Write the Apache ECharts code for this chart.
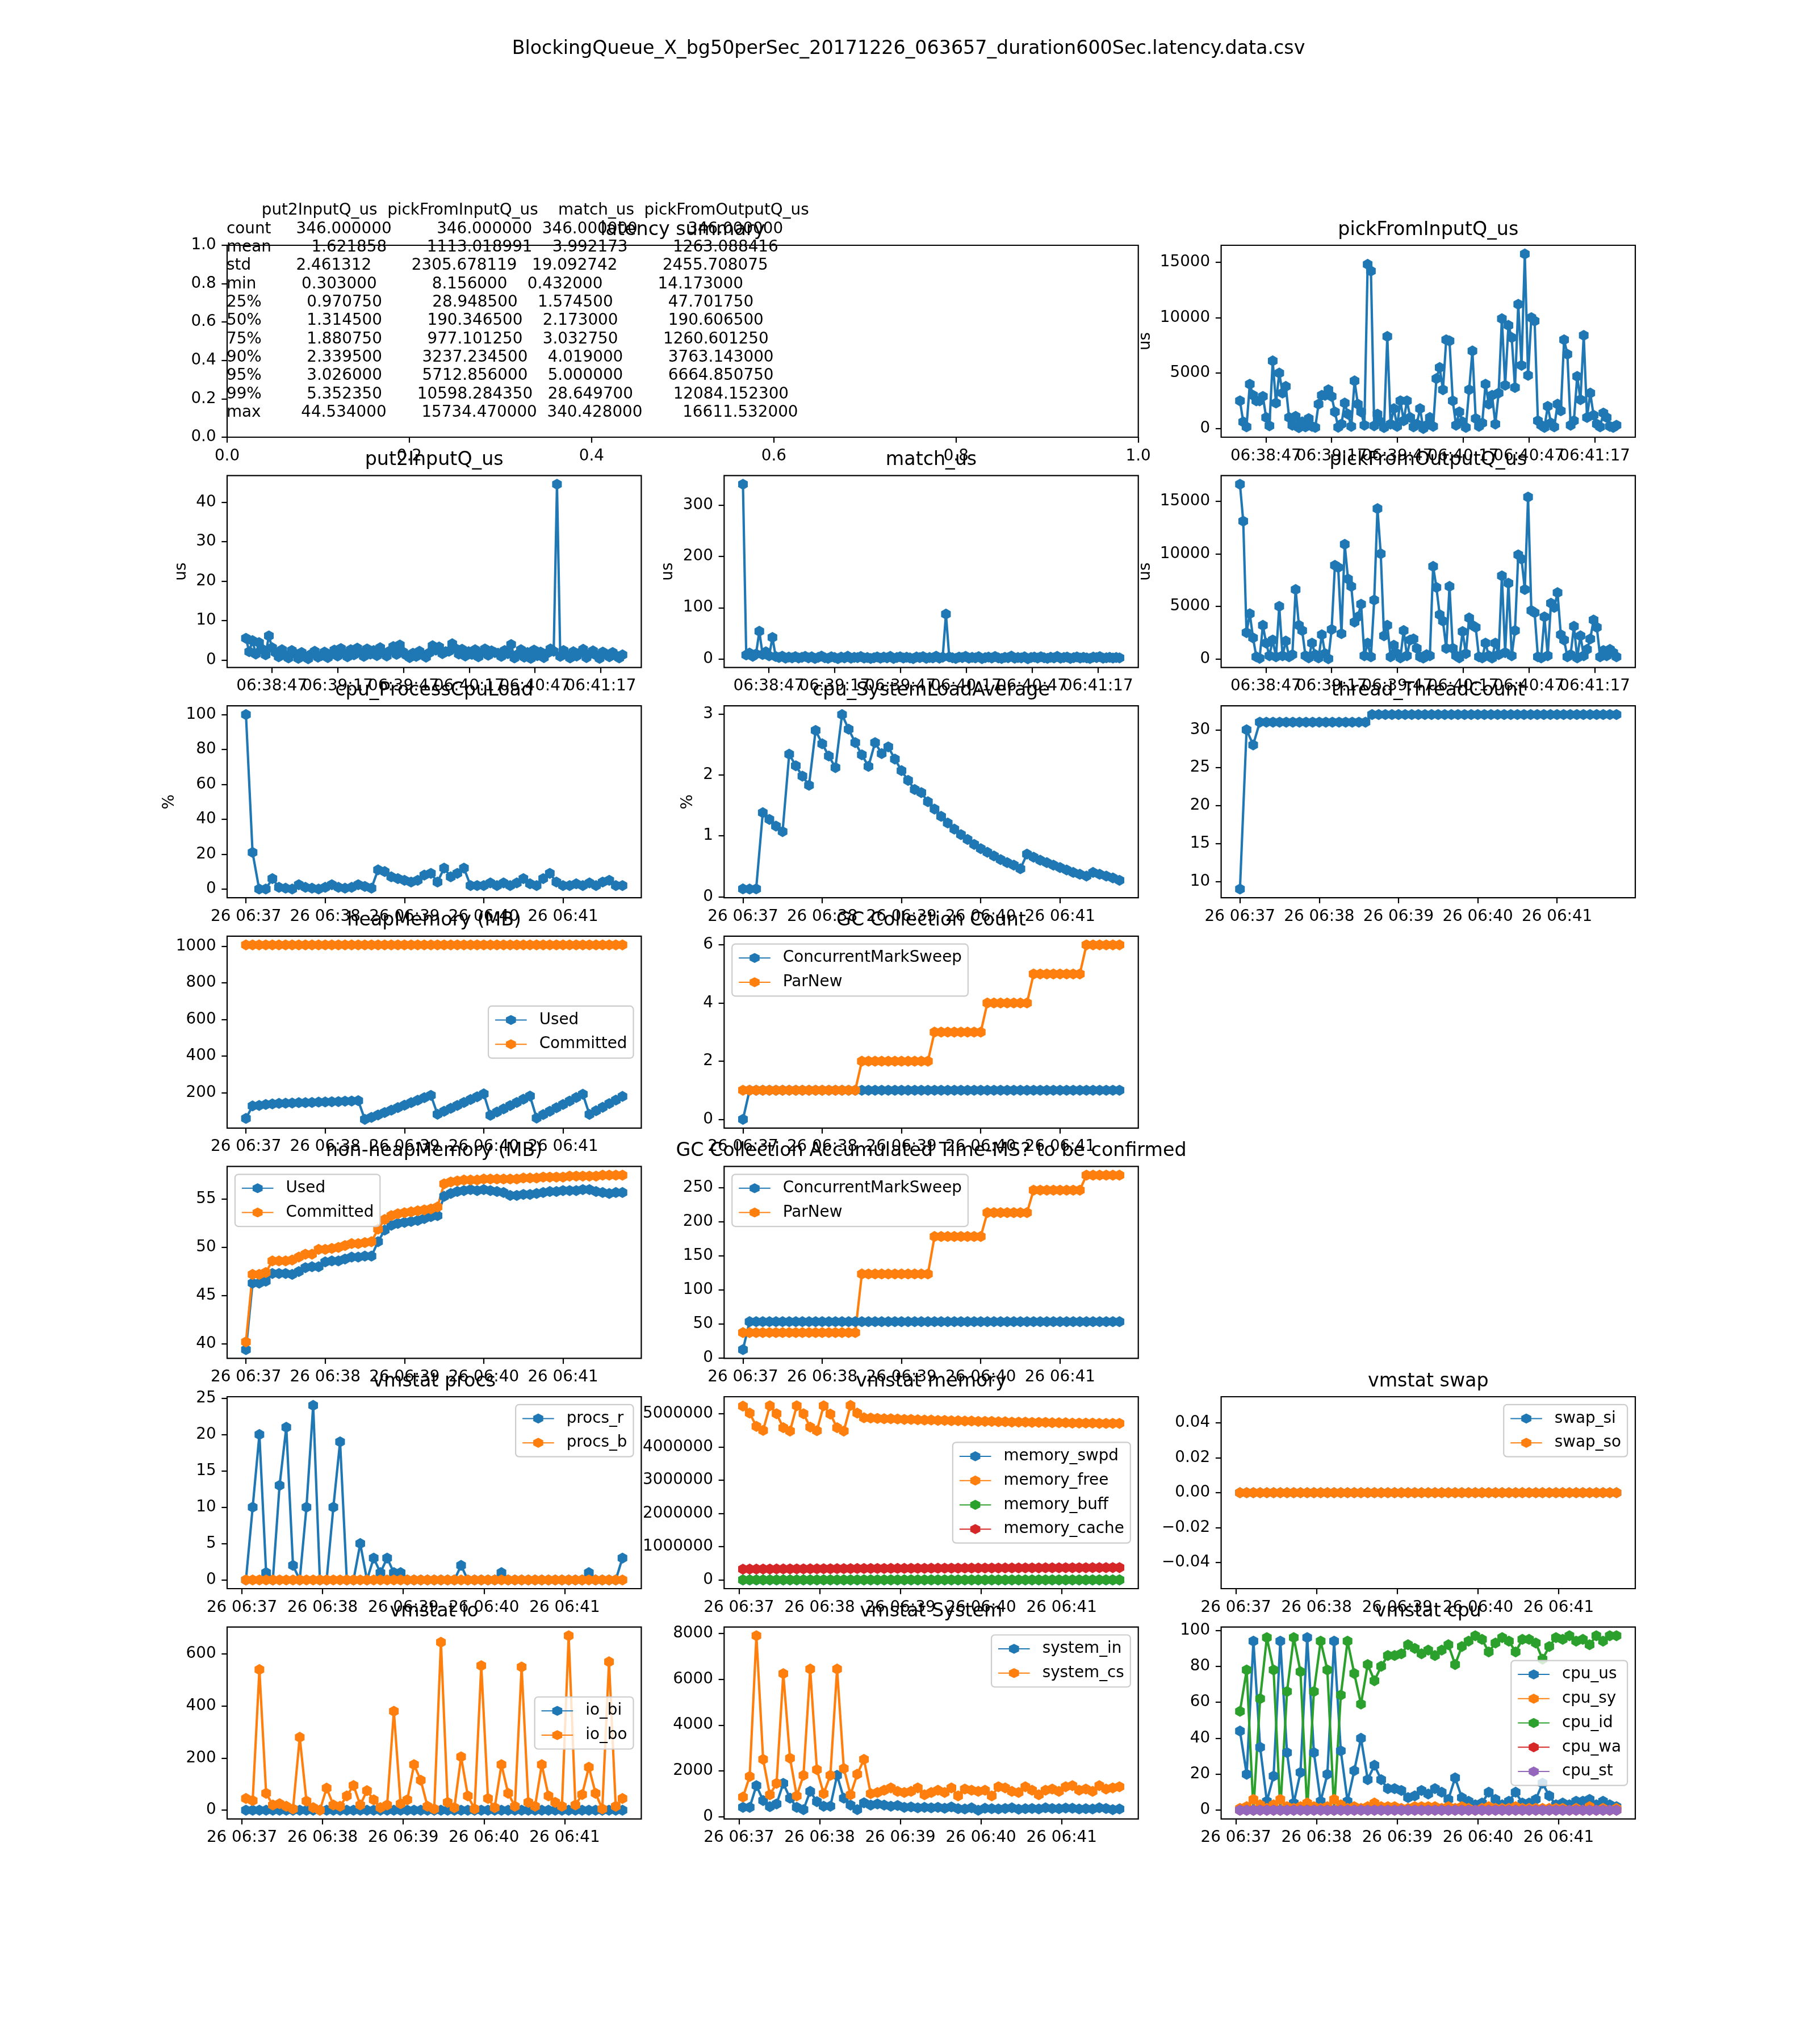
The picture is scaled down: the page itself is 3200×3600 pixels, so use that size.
<!DOCTYPE html>
<html>
<head>
<meta charset="utf-8">
<script src="https://cdn.jsdelivr.net/npm/echarts@6/dist/echarts.min.js"></script>
<style>
  html, body { margin: 0; padding: 0; background: #fff; }
  #chart { width: 3200px; height: 3600px; }
</style>
</head>
<body>
<div id="chart"></div>
<script>
// ---- data ----
const FIG_TITLE = 'BlockingQueue_X_bg50perSec_20171226_063657_duration600Sec.latency.data.csv';

// latency summary (pandas describe)
const STAT_NAMES = ['count', 'mean', 'std', 'min', '25%', '50%', '75%', '90%', '95%', '99%', 'max'];
const LAT_COLUMNS = ['put2InputQ_us', 'pickFromInputQ_us', 'match_us', 'pickFromOutputQ_us'];
const STAT_PUT2 = [346.0, 1.621858, 2.461312, 0.303, 0.97075, 1.3145, 1.88075, 2.3395, 3.026, 5.35235, 44.534];
const STAT_PICK_IN = [346.0, 1113.018991, 2305.678119, 8.156, 28.9485, 190.3465, 977.10125, 3237.2345, 5712.856, 10598.28435, 15734.47];
const STAT_MATCH = [346.0, 3.992173, 19.092742, 0.432, 1.5745, 2.173, 3.03275, 4.019, 5.0, 28.6497, 340.428];
const STAT_PICK_OUT = [346.0, 1263.088416, 2455.708075, 14.173, 47.70175, 190.6065, 1260.60125, 3763.143, 6664.85075, 12084.1523, 16611.532];

// latency samples, 06:38:35 .. 06:41:27
const LAT_START = '06:38:35.2', LAT_END = '06:41:26.9';
const PUT2_US = [5.5, 2.1, 4.9, 1.5, 4.4, 2.7, 1.3, 6.1, 3.1, 1.9,
  0.8, 2.6, 1.2, 0.5, 2.4, 1.6, 0.4, 1.9, 0.9, 0.303,
  1.5, 2.2, 0.7, 1.1, 2.0, 0.6, 1.4, 2.5, 1.0, 2.9,
  1.7, 0.8, 2.6, 1.3, 3.0, 1.9, 0.9, 2.8, 1.5, 2.4,
  1.1, 3.1, 1.8, 1.0, 2.3, 3.4, 1.4, 3.8, 2.0, 1.2,
  0.6, 1.7, 0.9, 2.2, 1.3, 0.7, 1.8, 3.6, 2.5, 3.3,
  1.6, 2.1, 2.2, 4.1, 2.9, 1.5, 2.7, 1.0, 2.1, 1.4,
  2.6, 0.8, 1.9, 2.8, 1.2, 2.3, 1.9, 1.7, 0.9, 2.4,
  1.6, 3.9, 0.5, 1.4, 2.6, 0.7, 1.9, 0.4, 2.5, 1.1,
  2.0, 0.6, 1.7, 2.8, 2.2, 44.534, 0.9, 2.4, 1.3, 0.5,
  2.1, 1.0, 1.8, 2.7, 0.6, 1.5, 2.3, 1.2, 0.4, 2.0,
  1.4, 0.8, 1.9, 1.1, 0.5, 1.3];
const PICK_IN_US = [2500, 600, 150, 4000, 3000, 2500, 2500, 2900, 1000, 250,
  6100, 2300, 5000, 3200, 3800, 1000, 300, 1100, 80, 600,
  150, 900, 200, 100, 2200, 3000, 3000, 3500, 2900, 1500,
  120, 400, 2300, 1300, 200, 4300, 2200, 1500, 300, 14800,
  14200, 250, 1300, 600, 90, 8300, 400, 1800, 200, 2500,
  700, 2500, 1000, 150, 400, 1800, 8.156, 300, 1000, 200,
  4500, 5500, 3500, 8000, 7900, 2500, 300, 1500, 600, 100,
  3500, 7000, 900, 200, 500, 4000, 2200, 3000, 400, 3200,
  9900, 3900, 9300, 8200, 3700, 11200, 5700, 15734.47, 4800, 10000,
  9700, 700, 300, 100, 2000, 500, 150, 2200, 1600, 8000,
  6700, 300, 700, 4700, 2600, 8400, 1000, 3200, 1200, 400,
  150, 1400, 1000, 200, 100, 300];
const MATCH_US = [340.428, 7.8, 11.5, 5.2, 9.6, 54, 8.7, 13.9, 6.1, 42,
  4.8, 2.9, 5.5, 1.6, 3.8, 2.2, 4.6, 1.9, 3.3, 5.0,
  2.1, 4.2, 0.9, 3.1, 5.6, 2.4, 1.2, 4.4, 2.8, 0.6,
  3.7, 2.0, 5.3, 1.4, 3.2, 2.6, 4.8, 1.8, 3.0, 0.9,
  2.4, 4.1, 1.5, 3.6, 2.2, 5.1, 1.0, 2.9, 4.3, 1.7,
  3.4, 2.1, 0.8, 3.9, 2.5, 4.7, 1.3, 3.0, 2.0, 5.4,
  1.6, 3.5, 87.5, 4.0, 2.3, 1.1, 3.8, 2.7, 5.2, 1.4,
  3.1, 2.0, 4.5, 0.7, 2.6, 3.7, 1.9, 4.9, 2.2, 1.0,
  3.3, 2.4, 5.6, 1.5, 3.0, 2.1, 4.2, 0.432, 2.8, 3.6,
  1.7, 4.4, 2.3, 1.2, 3.4, 2.0, 5.0, 1.6, 2.9, 3.8,
  1.1, 2.5, 4.1, 1.8, 3.2, 2.2, 0.9, 3.6, 2.7, 4.6,
  1.4, 2.4, 3.3, 1.9, 2.8, 2.1];
const PICK_OUT_US = [16611.532, 13100, 2500, 4300, 2000, 200, 60, 3200, 1500, 300,
  1800, 200, 5000, 300, 1700, 200, 400, 6600, 3200, 2700,
  300, 100, 1500, 400, 90, 2300, 500, 14.173, 2800, 8900,
  8700, 2400, 10900, 7600, 6900, 3500, 4000, 5200, 300, 1500,
  200, 5600, 14300, 10000, 2200, 3200, 200, 1300, 500, 100,
  2700, 300, 1800, 1900, 1000, 200, 80, 400, 300, 8800,
  6800, 4200, 3600, 1000, 6900, 1000, 300, 100, 2600, 500,
  3900, 3200, 3000, 200, 100, 1500, 300, 80, 1500, 400,
  7900, 600, 7200, 300, 2700, 9900, 9500, 6600, 15400, 4600,
  4400, 200, 100, 4000, 300, 5300, 4900, 6300, 2300, 1800,
  200, 400, 3100, 100, 2200, 300, 900, 1900, 3700, 3000,
  200, 800, 300, 900, 600, 200];

// JMX samples every 5 s from 06:37:00
const JMX_START = '06:37:00', JMX_STEP = 5;
const CPU_PROC = [100, 21, 0, 0, 6, 1, 0.5, 0, 2.5, 1, 0.5, 0, 1, 2.5, 1, 0.5, 1, 2.5, 1.5, 0.5,
  11, 10, 7, 6, 5, 4, 5, 8, 9, 4, 12, 7, 9, 12, 2, 2, 2, 3.5, 2, 3.5,
  2, 3.5, 6, 3, 2, 6, 9, 4, 2, 2, 3, 2, 3.5, 2, 4, 5, 2, 2];
const SYS_LOAD = [0.13, 0.127, 0.13, 1.38, 1.27, 1.16, 1.07, 2.34, 2.15, 1.98,
  1.83, 2.73, 2.51, 2.31, 2.12, 2.99, 2.75, 2.53, 2.33, 2.14,
  2.53, 2.35, 2.46, 2.26, 2.07, 1.91, 1.76, 1.71, 1.56, 1.44,
  1.32, 1.21, 1.11, 1.02, 0.94, 0.86, 0.79, 0.73, 0.67, 0.61,
  0.56, 0.52, 0.46, 0.70, 0.65, 0.60, 0.56, 0.52, 0.48, 0.44,
  0.40, 0.37, 0.34, 0.40, 0.37, 0.34, 0.31, 0.27];
const THREADS = [9, 30, 28, 31, 31, 31, 31, 31, 31, 31, 31, 31, 31, 31, 31, 31, 31, 31, 31, 31,
  32, 32, 32, 32, 32, 32, 32, 32, 32, 32, 32, 32, 32, 32, 32, 32, 32, 32, 32, 32,
  32, 32, 32, 32, 32, 32, 32, 32, 32, 32, 32, 32, 32, 32, 32, 32, 32, 32];
const HEAP_USED = [60, 128, 131, 136, 139, 142, 143, 144, 146, 146, 147, 149, 150, 151, 152, 154, 155, 157,
  55, 66, 79, 92, 105, 119, 132, 146, 159, 173, 186,
  83, 99, 115, 131, 147, 163, 178, 194,
  77, 95, 112, 130, 147, 165, 182,
  62, 81, 99, 118, 136, 155, 174, 192,
  82, 102, 121, 141, 160, 180];
const HEAP_COMMITTED = [1007, 1007, 1007, 1007, 1007, 1007, 1007, 1007, 1007, 1007,
  1007, 1007, 1007, 1007, 1007, 1007, 1007, 1007, 1007, 1007,
  1007, 1007, 1007, 1007, 1007, 1007, 1007, 1007, 1007, 1007,
  1007, 1007, 1007, 1007, 1007, 1007, 1007, 1007, 1007, 1007,
  1007, 1007, 1007, 1007, 1007, 1007, 1007, 1007, 1007, 1007,
  1007, 1007, 1007, 1007, 1007, 1007, 1007, 1007];
const NONHEAP_USED = [39.4, 46.3, 46.3, 46.5, 47.3, 47.3, 47.3, 47.2, 47.5, 47.9,
  48.0, 48.0, 48.5, 48.6, 48.6, 48.8, 49.0, 49.0, 49.1, 49.1,
  50.6, 51.8, 52.3, 52.5, 52.6, 52.7, 52.8, 53.0, 53.2, 53.3,
  55.3, 55.6, 55.8, 55.9, 56.0, 55.9, 56.0, 55.9, 55.8, 55.7,
  55.4, 55.4, 55.5, 55.5, 55.6, 55.7, 55.8, 55.8, 55.9, 55.9,
  55.9, 56.0, 56.0, 55.8, 55.7, 55.6, 55.7, 55.7];
const NONHEAP_COMMITTED = [40.2, 47.2, 47.2, 47.4, 48.6, 48.6, 48.6, 48.7, 49.0, 49.3,
  49.3, 49.8, 49.8, 49.9, 50.0, 50.2, 50.4, 50.4, 50.5, 50.6,
  51.9, 52.9, 53.3, 53.5, 53.6, 53.7, 53.8, 53.9, 54.0, 54.2,
  56.6, 56.8, 56.9, 57.0, 57.0, 57.0, 57.1, 57.1, 57.1, 57.1,
  57.1, 57.1, 57.2, 57.2, 57.2, 57.3, 57.3, 57.3, 57.3, 57.4,
  57.4, 57.4, 57.4, 57.4, 57.5, 57.5, 57.5, 57.5];
const GC_CMS_COUNT = [0, 1, 1, 1, 1, 1, 1, 1, 1, 1, 1, 1, 1, 1, 1, 1, 1, 1, 1, 1,
  1, 1, 1, 1, 1, 1, 1, 1, 1, 1, 1, 1, 1, 1, 1, 1, 1, 1, 1, 1,
  1, 1, 1, 1, 1, 1, 1, 1, 1, 1, 1, 1, 1, 1, 1, 1, 1, 1];
const GC_PARNEW_COUNT = [1, 1, 1, 1, 1, 1, 1, 1, 1, 1, 1, 1, 1, 1, 1, 1, 1, 1,
  2, 2, 2, 2, 2, 2, 2, 2, 2, 2, 2,
  3, 3, 3, 3, 3, 3, 3, 3,
  4, 4, 4, 4, 4, 4, 4,
  5, 5, 5, 5, 5, 5, 5, 5,
  6, 6, 6, 6, 6, 6];
const GC_CMS_TIME = [12, 53, 53, 53, 53, 53, 53, 53, 53, 53, 53, 53, 53, 53, 53, 53, 53, 53, 53, 53,
  53, 53, 53, 53, 53, 53, 53, 53, 53, 53, 53, 53, 53, 53, 53, 53, 53, 53, 53, 53,
  53, 53, 53, 53, 53, 53, 53, 53, 53, 53, 53, 53, 53, 53, 53, 53, 53, 53];
const GC_PARNEW_TIME = [37, 37, 37, 37, 37, 37, 37, 37, 37, 37, 37, 37, 37, 37, 37, 37, 37, 37,
  123, 123, 123, 123, 123, 123, 123, 123, 123, 123, 123,
  178, 178, 178, 178, 178, 178, 178, 178,
  213, 213, 213, 213, 213, 213, 213,
  246, 246, 246, 246, 246, 246, 246, 246,
  268, 268, 268, 268, 268, 268];

// vmstat samples every 5 s from 06:37:03
const VM_START = '06:37:03', VM_STEP = 5;
const PROCS_R = [0, 10, 20, 1, 0, 13, 21, 2, 0, 10, 24, 0, 0, 10, 19, 0, 0, 5, 0, 3,
  1, 3, 1, 1, 0, 0, 0, 0, 0, 0, 0, 0, 2, 0, 0, 0, 0, 0, 1, 0,
  0, 0, 0, 0, 0, 0, 0, 0, 0, 0, 0, 1, 0, 0, 0, 0, 3];
const PROCS_B = [0, 0, 0, 0, 0, 0, 0, 0, 0, 0, 0, 0, 0, 0, 0, 0, 0, 0, 0, 0,
  0, 0, 0, 0, 0, 0, 0, 0, 0, 0, 0, 0, 0, 0, 0, 0, 0, 0, 0, 0,
  0, 0, 0, 0, 0, 0, 0, 0, 0, 0, 0, 0, 0, 0, 0, 0, 0];
const MEM_SWPD = PROCS_B;
const MEM_FREE = [5230000, 5020000, 4620000, 4500000, 5240000, 5000000, 4580000, 4480000, 5240000, 5000000,
  4600000, 4490000, 5240000, 4990000, 4580000, 4480000, 5250000, 5020000, 4880000, 4870000,
  4860000, 4850000, 4850000, 4840000, 4830000, 4830000, 4820000, 4810000, 4810000, 4800000,
  4800000, 4790000, 4790000, 4780000, 4780000, 4770000, 4770000, 4770000, 4760000, 4760000,
  4750000, 4750000, 4750000, 4740000, 4740000, 4740000, 4730000, 4730000, 4730000, 4720000,
  4720000, 4720000, 4720000, 4710000, 4710000, 4710000, 4710000];
const MEM_BUFF = [2100, 2100, 2100, 2100, 2100, 2100, 2100, 2100, 2100, 2100, 2100, 2100, 2100, 2100, 2100, 2100, 2100, 2100, 2100, 2100,
  2100, 2100, 2100, 2100, 2100, 2100, 2100, 2100, 2100, 2100, 2100, 2100, 2100, 2100, 2100, 2100, 2100, 2100, 2100, 2100,
  2100, 2100, 2100, 2100, 2100, 2100, 2100, 2100, 2100, 2100, 2100, 2100, 2100, 2100, 2100, 2100, 2100];
const MEM_CACHE = [324000, 325500, 326800, 327200, 328900, 329400, 330100, 331700, 332300, 333000,
  334800, 335200, 336100, 337600, 338000, 339400, 341200, 342800, 343500, 344100,
  345000, 345900, 346700, 347200, 348100, 349000, 349800, 350400, 351300, 352000,
  352900, 353500, 354200, 355100, 355800, 356400, 357300, 358000, 358700, 359300,
  360100, 360800, 361500, 362200, 362900, 363500, 364200, 364900, 365600, 366200,
  366900, 367500, 368200, 368800, 369400, 370000, 370600];
const SWAP_SI = PROCS_B;
const SWAP_SO = PROCS_B;
const IO_BI = PROCS_B;
const IO_BO = [45, 37, 540, 65, 20, 25, 15, 5, 280, 35, 10, 0, 85, 20, 15, 55, 95, 20, 75, 40,
  10, 20, 380, 25, 40, 175, 115, 15, 5, 645, 30, 10, 205, 55, 5, 555, 45, 10, 175, 65,
  15, 550, 30, 15, 175, 55, 30, 15, 670, 20, 60, 165, 65, 5, 570, 15, 45];
const SYS_IN = [400, 400, 1350, 700, 430, 550, 1450, 800, 400, 300, 1100, 650, 450, 450, 1800, 800, 500, 300, 600, 500,
  550, 500, 450, 480, 400, 420, 380, 400, 380, 400, 360, 420, 340, 330, 380, 275, 360, 340, 330, 350,
  380, 320, 340, 350, 330, 380, 350, 340, 370, 360, 330, 340, 330, 380, 350, 300, 330];
const SYS_CS = [850, 1750, 7907, 2500, 950, 1450, 6250, 2550, 900, 1800, 6450, 2050, 1000, 1800, 6450, 2100, 950, 1850, 2500, 1000,
  1050, 1150, 1250, 1100, 1050, 1100, 1250, 950, 1050, 1150, 1050, 1250, 900, 1200, 1150, 1100, 1150, 900, 1300, 1250,
  1100, 1050, 1300, 1150, 950, 1150, 1200, 1100, 1300, 1350, 1150, 1200, 1100, 1350, 1200, 1250, 1300];
const CPU_US = [44, 20, 94, 35, 5, 19, 94, 32, 4, 21, 96, 32, 5, 20, 94, 33, 5, 22, 40, 17,
  25, 17, 12, 12, 11, 7, 8, 11, 9, 12, 10, 6, 18, 7, 5, 3, 4, 10, 6, 3,
  5, 10, 4, 4, 6, 15, 8, 3, 4, 3, 5, 5, 6, 3, 5, 3, 2];
const CPU_SY = [1, 2, 6, 3, 1, 3, 6, 2, 1, 2, 4, 2, 1, 2, 6, 3, 1, 2, 1, 2,
  4, 2, 2, 2, 1, 1, 2, 2, 2, 2, 1, 2, 1, 2, 1, 0, 1, 2, 1, 1,
  1, 2, 1, 1, 1, 1, 1, 1, 1, 0, 1, 0, 2, 0, 1, 0, 1];
const CPU_ID = [55, 78, 0, 62, 96, 78, 0, 66, 96, 77, 0, 66, 94, 78, 0, 64, 94, 76, 59, 81,
  72, 80, 86, 86, 87, 92, 90, 87, 89, 86, 89, 92, 81, 91, 94, 97, 95, 88, 93, 96,
  94, 88, 95, 95, 93, 84, 91, 96, 95, 97, 94, 95, 92, 97, 94, 97, 97];
const CPU_WA = PROCS_B;
const CPU_ST = PROCS_B;

// tick labels
const UNIT_TICKS = [0, 0.2, 0.4, 0.6, 0.8, 1.0];
const LAT_TICK_LABELS = ['06:38:47', '06:39:17', '06:39:47', '06:40:17', '06:40:47', '06:41:17'];
const MIN_TICK_LABELS = ['26 06:37', '26 06:38', '26 06:39', '26 06:40', '26 06:41'];

// ---- helpers ----
const FONT = 'DejaVu Sans';
const FS = 27.8, TFS = 33.3;
const C = ['#1f77b4', '#ff7f0e', '#2ca02c', '#d62728', '#9467bd'];
const HEX = 'path://M0,-1L0.866,-0.5L0.866,0.5L0,1L-0.866,0.5L-0.866,-0.5Z';
const COL_X = [400, 1275.3, 2150.6], COL_W = 729.4;
const ROW_H = 338;
const rowTop = r => 432 + r * 405.6;
const BASE = 6 * 3600 + 37 * 60;   // 06:37:00

const secOf = s => { const p = s.replace(/^26 /, '').split(':').map(Number); return p[0] * 3600 + p[1] * 60 + (p[2] || 0) - BASE; };
const fmtTick = (labels) => { const m = {}; labels.forEach(l => { m[Math.round(secOf(l) * 1000)] = l; }); return v => m[Math.round(v * 1000)] || ''; };

const latT0 = secOf(LAT_START), latT1 = secOf(LAT_END);
const LAT_T = PUT2_US.map((_, i) => latT0 + i * (latT1 - latT0) / (PUT2_US.length - 1));
const JMX_T = CPU_PROC.map((_, i) => secOf(JMX_START) + i * JMX_STEP);
const VM_T = PROCS_R.map((_, i) => secOf(VM_START) + i * VM_STEP);
const LAT_TICKS = LAT_TICK_LABELS.map(secOf);
const MIN_TICKS = MIN_TICK_LABELS.map(secOf);

function pad(lo, hi) {
  if (hi === lo) return [lo - 0.055, hi + 0.055];
  const d = (hi - lo) * 0.05;
  return [lo - d, hi + d];
}

const grids = [], xAxes = [], yAxes = [], series = [], legends = [], graphics = [];
const manualXLabels = [];   // overlapping time labels, placed after layout

function axisCommon(ticks, fmt, margin, showLabels) {
  return {
    axisLine: { show: false, onZero: false },
    splitLine: { show: false },
    axisTick: { show: true, inside: false, length: 9.7, lineStyle: { color: '#000', width: 2.2 }, customValues: ticks },
    axisLabel: {
      show: showLabels !== false, customValues: ticks, formatter: fmt, margin: margin, color: '#000',
      fontSize: FS, fontFamily: FONT, hideOverlap: false, showMinLabel: true, showMaxLabel: true
    }
  };
}

function addPlot(p) {
  const k = grids.length;
  const left = COL_X[p.col], top = rowTop(p.row);
  const width = p.span ? COL_X[p.col + p.span - 1] + COL_W - left : COL_W;
  grids.push({ left, top, width, height: ROW_H, show: true, borderColor: '#000', borderWidth: 2.2, backgroundColor: 'transparent' });

  let xr = p.xr, yr = p.yr;
  if (!xr) xr = pad(Math.min(...p.x), Math.max(...p.x));
  if (!yr) {
    const all = [].concat(...p.series.map(s => s[1]));
    yr = pad(Math.min(...all), Math.max(...all));
  }
  xAxes.push(Object.assign({ type: 'value', gridIndex: k, min: xr[0], max: xr[1] }, axisCommon(p.xTicks, p.xFmt, 19.4, !p.manualX)));
  yAxes.push(Object.assign({ type: 'value', gridIndex: k, min: yr[0], max: yr[1] }, axisCommon(p.yTicks, p.yFmt || (v => String(v)), 19.4)));
  if (p.manualX) manualXLabels.push({ k, ticks: p.xTicks, fmt: p.xFmt, y: top + ROW_H + 19.4 });

  if (!p.series.length) {
    series.push({ type: 'line', xAxisIndex: k, yAxisIndex: k, data: [], silent: true });
  }
  p.series.forEach(([name, ys, color]) => {
    series.push({
      type: 'line', name, xAxisIndex: k, yAxisIndex: k,
      data: ys.map((v, i) => [p.x[i], v]),
      symbol: HEX, symbolSize: [17, 19.5], showSymbol: true,
      lineStyle: { width: 4.2, color }, itemStyle: { color },
      emphasis: { disabled: true }, silent: true, animation: false
    });
  });

  graphics.push({
    type: 'text', x: left + width / 2, y: top - 27, silent: true,
    style: { text: p.title, fontSize: TFS, fontFamily: FONT, fill: '#000', align: 'center', verticalAlign: 'middle' }
  });
  if (p.ylabel) {
    graphics.push({
      type: 'text', x: p.ylx, y: top + ROW_H / 2, rotation: Math.PI / 2, silent: true,
      style: { text: p.ylabel, fontSize: FS, fontFamily: FONT, fill: '#000', align: 'center', verticalAlign: 'middle' }
    });
  }
  if (p.legend) {
    const names = p.series.map(s => s[0]);
    const n = names.length;
    const h = n * 32 + (n - 1) * 10.75 + 17;
    const lg = {
      data: names, orient: 'vertical', selectedMode: false,
      itemWidth: 55.6, itemHeight: 22, itemGap: 10.75,
      padding: [8.5, 11], backgroundColor: 'rgba(255,255,255,0.8)',
      borderColor: '#cccccc', borderWidth: 2.2, borderRadius: 6,
      textStyle: { fontSize: FS, fontFamily: FONT, color: '#000', lineHeight: 32, padding: [0, 0, 0, 17] }
    };
    if (p.legend === 'ul') { lg.left = left + 13.9; lg.top = top + 13.9; }
    else if (p.legend === 'ur') { lg.right = 3200 - (left + width - 13.9); lg.top = top + 13.9; }
    else { lg.right = 3200 - (left + width - 13.9); lg.top = top + ROW_H / 2 - h / 2; }
    legends.push(lg);
  }
}

const latFmt = fmtTick(LAT_TICK_LABELS);
const minFmt = fmtTick(MIN_TICK_LABELS);

addPlot({ row: 0, col: 0, span: 2, title: 'latency summary', xr: [0, 1], yr: [0, 1], x: [],
  xTicks: UNIT_TICKS, yTicks: UNIT_TICKS, xFmt: v => v.toFixed(1), yFmt: v => v.toFixed(1), series: [] });
addPlot({ row: 0, col: 2, title: 'pickFromInputQ_us', ylabel: 'us', ylx: 2018, x: LAT_T, xTicks: LAT_TICKS, xFmt: latFmt, manualX: true,
  yTicks: [0, 5000, 10000, 15000], series: [['pickFromInputQ_us', PICK_IN_US, C[0]]] });
addPlot({ row: 1, col: 0, title: 'put2InputQ_us', ylabel: 'us', ylx: 320, x: LAT_T, xTicks: LAT_TICKS, xFmt: latFmt, manualX: true,
  yTicks: [0, 10, 20, 30, 40], series: [['put2InputQ_us', PUT2_US, C[0]]] });
addPlot({ row: 1, col: 1, title: 'match_us', ylabel: 'us', ylx: 1177, x: LAT_T, xTicks: LAT_TICKS, xFmt: latFmt, manualX: true,
  yTicks: [0, 100, 200, 300], series: [['match_us', MATCH_US, C[0]]] });
addPlot({ row: 1, col: 2, title: 'pickFromOutputQ_us', ylabel: 'us', ylx: 2018, x: LAT_T, xTicks: LAT_TICKS, xFmt: latFmt, manualX: true,
  yTicks: [0, 5000, 10000, 15000], series: [['pickFromOutputQ_us', PICK_OUT_US, C[0]]] });

addPlot({ row: 2, col: 0, title: 'cpu_ProcessCpuLoad', ylabel: '%', ylx: 299, x: JMX_T, xTicks: MIN_TICKS, xFmt: minFmt,
  yTicks: [0, 20, 40, 60, 80, 100], series: [['cpu_ProcessCpuLoad', CPU_PROC, C[0]]] });
addPlot({ row: 2, col: 1, title: 'cpu_SystemLoadAverage', ylabel: '%', ylx: 1212, x: JMX_T, xTicks: MIN_TICKS, xFmt: minFmt,
  yTicks: [0, 1, 2, 3], series: [['cpu_SystemLoadAverage', SYS_LOAD, C[0]]] });
addPlot({ row: 2, col: 2, title: 'thread_ThreadCount', x: JMX_T, xTicks: MIN_TICKS, xFmt: minFmt,
  yTicks: [10, 15, 20, 25, 30], series: [['thread_ThreadCount', THREADS, C[0]]] });

addPlot({ row: 3, col: 0, title: 'heapMemory (MB)', x: JMX_T, xTicks: MIN_TICKS, xFmt: minFmt, legend: 'cr',
  yTicks: [200, 400, 600, 800, 1000], series: [['Used', HEAP_USED, C[0]], ['Committed', HEAP_COMMITTED, C[1]]] });
addPlot({ row: 3, col: 1, title: 'GC Collection Count', x: JMX_T, xTicks: MIN_TICKS, xFmt: minFmt, legend: 'ul',
  yTicks: [0, 2, 4, 6], series: [['ConcurrentMarkSweep', GC_CMS_COUNT, C[0]], ['ParNew', GC_PARNEW_COUNT, C[1]]] });

addPlot({ row: 4, col: 0, title: 'non-heapMemory (MB)', x: JMX_T, xTicks: MIN_TICKS, xFmt: minFmt, legend: 'ul',
  yTicks: [40, 45, 50, 55], series: [['Used', NONHEAP_USED, C[0]], ['Committed', NONHEAP_COMMITTED, C[1]]] });
addPlot({ row: 4, col: 1, title: 'GC Collection Accumulated Time-MS? to be confirmed', x: JMX_T, xTicks: MIN_TICKS, xFmt: minFmt, legend: 'ul',
  yTicks: [0, 50, 100, 150, 200, 250], series: [['ConcurrentMarkSweep', GC_CMS_TIME, C[0]], ['ParNew', GC_PARNEW_TIME, C[1]]] });

addPlot({ row: 5, col: 0, title: 'vmstat procs', x: VM_T, xTicks: MIN_TICKS, xFmt: minFmt, legend: 'ur',
  yTicks: [0, 5, 10, 15, 20, 25], series: [['procs_r', PROCS_R, C[0]], ['procs_b', PROCS_B, C[1]]] });
addPlot({ row: 5, col: 1, title: 'vmstat memory', x: VM_T, xTicks: MIN_TICKS, xFmt: minFmt, legend: 'cr',
  yTicks: [0, 1000000, 2000000, 3000000, 4000000, 5000000],
  series: [['memory_swpd', MEM_SWPD, C[0]], ['memory_free', MEM_FREE, C[1]], ['memory_buff', MEM_BUFF, C[2]], ['memory_cache', MEM_CACHE, C[3]]] });
addPlot({ row: 5, col: 2, title: 'vmstat swap', x: VM_T, xTicks: MIN_TICKS, xFmt: minFmt, legend: 'ur',
  yTicks: [-0.04, -0.02, 0, 0.02, 0.04], yFmt: v => v.toFixed(2).replace('-', '\u2212'),
  series: [['swap_si', SWAP_SI, C[0]], ['swap_so', SWAP_SO, C[1]]] });

addPlot({ row: 6, col: 0, title: 'vmstat io', x: VM_T, xTicks: MIN_TICKS, xFmt: minFmt, legend: 'cr',
  yTicks: [0, 200, 400, 600], series: [['io_bi', IO_BI, C[0]], ['io_bo', IO_BO, C[1]]] });
addPlot({ row: 6, col: 1, title: 'vmstat System', x: VM_T, xTicks: MIN_TICKS, xFmt: minFmt, legend: 'ur',
  yTicks: [0, 2000, 4000, 6000, 8000], series: [['system_in', SYS_IN, C[0]], ['system_cs', SYS_CS, C[1]]] });
addPlot({ row: 6, col: 2, title: 'vmstat cpu', x: VM_T, xTicks: MIN_TICKS, xFmt: minFmt, legend: 'cr',
  yTicks: [0, 20, 40, 60, 80, 100],
  series: [['cpu_us', CPU_US, C[0]], ['cpu_sy', CPU_SY, C[1]], ['cpu_id', CPU_ID, C[2]], ['cpu_wa', CPU_WA, C[3]], ['cpu_st', CPU_ST, C[4]]] });

// summary table text, laid out like pandas describe()
const STATS = [STAT_PUT2, STAT_PICK_IN, STAT_MATCH, STAT_PICK_OUT];
const colW = LAT_COLUMNS.map((h, j) => Math.max(h.length, ...STATS[j].map(v => v.toFixed(6).length)));
const idxW = Math.max(...STAT_NAMES.map(s => s.length));
const tableLines = [' '.repeat(idxW) + LAT_COLUMNS.map((h, j) => '  ' + h.padStart(colW[j])).join('')];
STAT_NAMES.forEach((nm, i) => {
  tableLines.push(nm.padEnd(idxW) + STATS.map((col, j) => '  ' + col[i].toFixed(6).padStart(colW[j])).join(''));
});
tableLines.forEach((line, i) => {
  graphics.push({
    type: 'text', x: 399, y: 371 + i * 32.34, silent: true, z: 10,
    style: { text: line, fontSize: FS, fontFamily: FONT, fill: '#000', align: 'left', verticalAlign: 'middle' }
  });
});

graphics.push({
  type: 'text', x: 1600, y: 86, silent: true,
  style: { text: FIG_TITLE, fontSize: TFS, fontFamily: FONT, fill: '#000', align: 'center', verticalAlign: 'middle' }
});

const chart = echarts.init(document.getElementById('chart'), null, { renderer: 'canvas' });
chart.setOption({
  animation: false,
  backgroundColor: '#ffffff',
  grid: grids,
  xAxis: xAxes,
  yAxis: yAxes,
  legend: legends,
  series: series,
  graphic: { elements: graphics }
});

// the latency time labels overlap like in the original; echarts would drop some, so place them via the axis scale
manualXLabels.forEach(m => {
  m.ticks.forEach(t => {
    const px = chart.convertToPixel({ xAxisIndex: m.k }, t);
    graphics.push({
      type: 'text', x: px, y: m.y, silent: true,
      style: { text: m.fmt(t), fontSize: FS, fontFamily: FONT, fill: '#000', align: 'center', verticalAlign: 'top' }
    });
  });
});
chart.setOption({ graphic: { elements: graphics } });
</script>
</body>
</html>
